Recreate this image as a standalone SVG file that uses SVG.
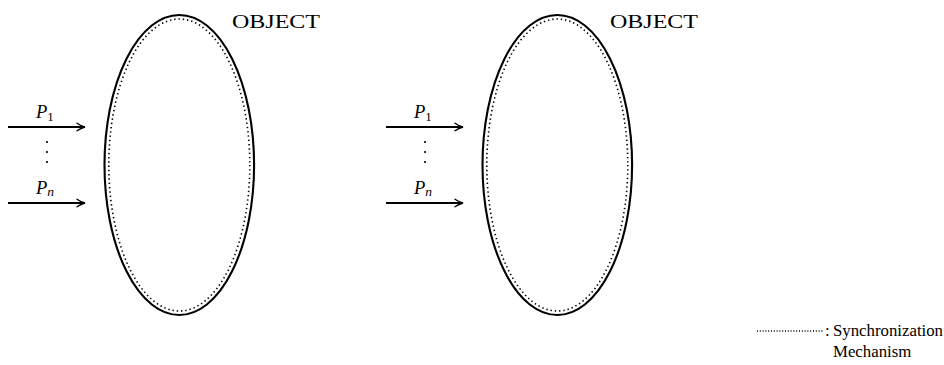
<svg xmlns="http://www.w3.org/2000/svg" width="944" height="365" viewBox="0 0 944 365">
  <style>
    .outer { fill: none; stroke: #000; stroke-width: 2.1; }
    .dotted { fill: none; stroke: #000; stroke-width: 1.6; stroke-dasharray: 1.4 2.9; }
    .arrow { fill: none; stroke: #000; stroke-width: 1.8; marker-end: url(#head); }
    .lbl { font-family: "Liberation Serif", "DejaVu Serif", serif; fill: #000; }
    .obj { font-size: 18px; }
    .leg { font-size: 16.8px; }
    .it { font-style: italic; font-size: 18.5px; }
    .sub { font-style: normal; font-size: 13px; }
    .subi { font-style: italic; font-size: 13.5px; }
    .dot { fill: #000; }
  </style>
  <defs>
    <marker id="head" markerWidth="12" markerHeight="10" refX="9" refY="5" orient="auto" markerUnits="userSpaceOnUse">
      <path d="M 1 1.2 Q 5 4 9 5 Q 5 6 1 8.8" fill="none" stroke="#000" stroke-width="1.4" stroke-linecap="round"/>
    </marker>
  </defs>

  <g id="object1">
    <ellipse class="outer" cx="179.3" cy="165" rx="74.8" ry="150"/>
    <ellipse class="dotted" cx="179.3" cy="165" rx="70.5" ry="146"/>
    <text class="lbl obj" x="232" y="28" textLength="88" lengthAdjust="spacingAndGlyphs">OBJECT</text>
  </g>

  <g id="object2">
    <ellipse class="outer" cx="557.3" cy="165" rx="74.8" ry="150"/>
    <ellipse class="dotted" cx="557.3" cy="165" rx="70.5" ry="146"/>
    <text class="lbl obj" x="610" y="28" textLength="88" lengthAdjust="spacingAndGlyphs">OBJECT</text>
  </g>

  <g id="processes1">
    <text class="lbl it" x="36" y="118">P<tspan class="sub" dy="3">1</tspan></text>
    <circle class="dot" cx="47" cy="142" r="1.1"/>
    <circle class="dot" cx="47" cy="152" r="1.1"/>
    <circle class="dot" cx="47" cy="162" r="1.1"/>
    <text class="lbl it" x="36" y="194">P<tspan class="subi" dy="2">n</tspan></text>
  </g>

  <g id="processes2">
    <text class="lbl it" x="414" y="118">P<tspan class="sub" dy="3">1</tspan></text>
    <circle class="dot" cx="425" cy="142" r="1.1"/>
    <circle class="dot" cx="425" cy="152" r="1.1"/>
    <circle class="dot" cx="425" cy="162" r="1.1"/>
    <text class="lbl it" x="414" y="194">P<tspan class="subi" dy="2">n</tspan></text>
  </g>

  <g id="connectors">
    <line class="arrow" x1="8" y1="127" x2="85" y2="127"/>
    <line class="arrow" x1="8" y1="203" x2="85" y2="203"/>
    <line class="arrow" x1="386" y1="127" x2="463" y2="127"/>
    <line class="arrow" x1="386" y1="203" x2="463" y2="203"/>
  </g>

  <g id="legend">
    <line x1="757" y1="331" x2="823" y2="331" stroke="#000" stroke-width="1.3" stroke-dasharray="1 1.8"/>
    <text class="lbl leg" x="825" y="336">:</text>
    <text class="lbl leg" x="833" y="336">Synchronization</text>
    <text class="lbl leg" x="833" y="357">Mechanism</text>
  </g>
</svg>
